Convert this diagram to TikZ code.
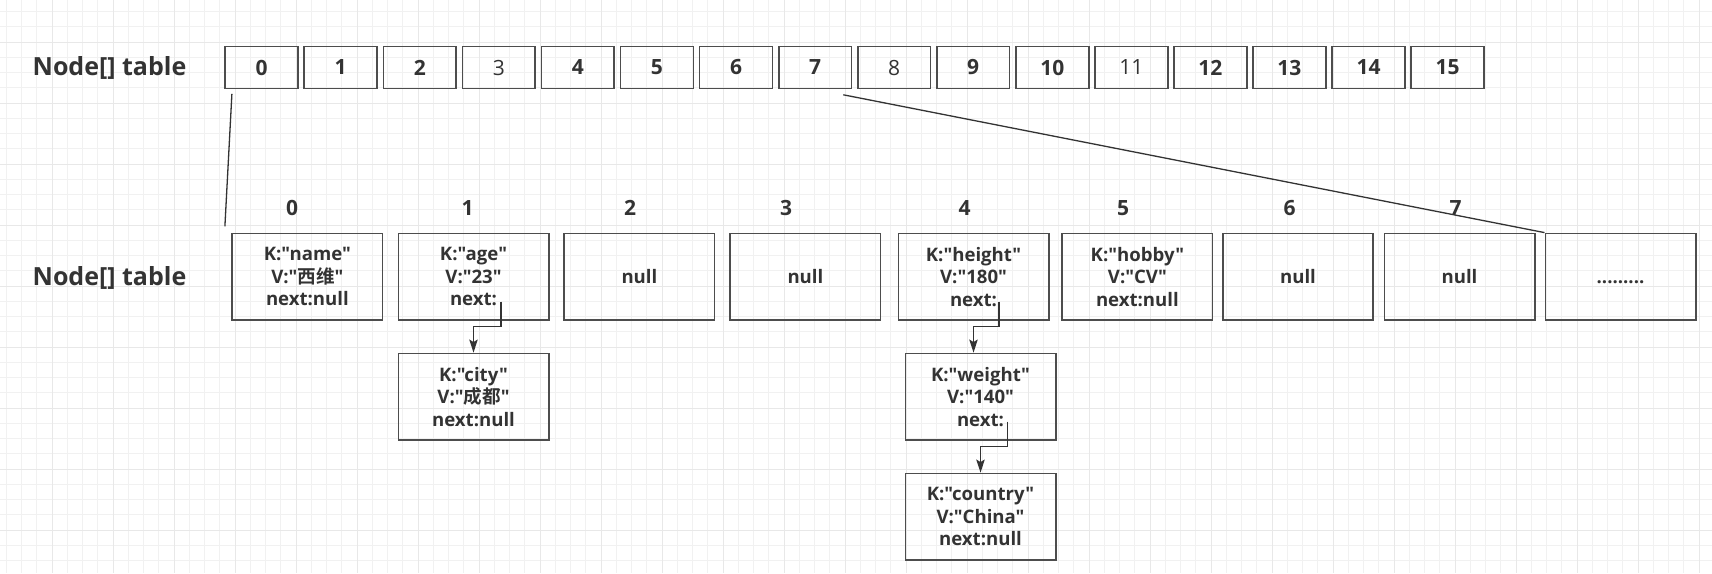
\documentclass[tikz,border=0pt]{standalone}
\usepackage{fontspec}
\setmainfont{Open Sans}[Ligatures=TeXOff]
\newfontfamily\cjk{Noto Sans CJK SC}[BoldFont={Noto Sans CJK SC Bold}]
\usetikzlibrary{arrows.meta,calc,matrix}
\definecolor{ink}{HTML}{333333}
\definecolor{edgegray}{HTML}{4D4D4D}
\definecolor{finegray}{HTML}{F1F1F1}
\definecolor{coarsegray}{HTML}{E8E8E8}

\begin{document}
\begin{tikzpicture}[x=0.5pt,y=-0.5pt,
  slot/.style={draw=edgegray,line width=0.85pt,minimum width=36.4pt,minimum height=20.95pt,inner sep=0pt,text=ink,font=\fontsize{10.5}{12}\selectfont\bfseries},
  light/.style={font=\fontsize{10.5}{12}\selectfont},
  bucket/.style={draw=edgegray,line width=0.85pt,minimum width=75.15pt,minimum height=43.15pt,inner sep=0pt,align=center,text=ink,font=\fontsize{9.3}{11.25}\selectfont\bfseries},
  idx/.style={text=ink,font=\fontsize{10.5}{12}\selectfont\bfseries},
  title/.style={text=ink,font=\fontsize{12.5}{15}\selectfont\bfseries},
  fine/.style={draw=finegray,line width=0.5pt},
  coarse/.style={draw=coarsegray,line width=0.5pt},
  edge/.style={draw=ink,line width=0.65pt},
  link/.style={draw=ink,line width=0.65pt,->,>={Stealth[length=6.5pt,width=4.2pt,inset=1.2pt]}}]
\useasboundingbox (0,0) rectangle (1712,573);
\fill[white] (0,0) rectangle (1712,573);

% background grid
\foreach \i in {0,...,111} \draw[fine] ({6.25+15.25*\i},0) -- ++(0,573);
\foreach \i in {0,...,36} \draw[fine] (0,{11.5+15.25*\i}) -- ++(1712,0);
\foreach \i in {0,...,27} \draw[coarse] ({52+61*\i},0) -- ++(0,573);
\foreach \i in {0,...,8} \draw[coarse] (0,{42+61*\i}) -- ++(1712,0);

\node(toptitle)[title] at (109.5,68) {Node[] table};
\node(lowtitle)[title] at (109.5,277.5) {Node[] table};

\matrix (tab) [column sep=2.28pt] at (854.6,67.5)
{
\node(c0)[slot]{0}; \pgfmatrixnextcell \node(c1)[slot]{1}; \pgfmatrixnextcell \node(c2)[slot]{2}; \pgfmatrixnextcell \node(c3)[slot,light]{3}; \pgfmatrixnextcell
\node(c4)[slot]{4}; \pgfmatrixnextcell \node(c5)[slot]{5}; \pgfmatrixnextcell \node(c6)[slot]{6}; \pgfmatrixnextcell \node(c7)[slot]{7}; \pgfmatrixnextcell
\node(c8)[slot,light]{8}; \pgfmatrixnextcell \node(c9)[slot]{9}; \pgfmatrixnextcell \node(c10)[slot]{10}; \pgfmatrixnextcell \node(c11)[slot,light]{11}; \pgfmatrixnextcell
\node(c12)[slot]{12}; \pgfmatrixnextcell \node(c13)[slot]{13}; \pgfmatrixnextcell \node(c14)[slot]{14}; \pgfmatrixnextcell \node(c15)[slot]{15};\\
};

\node(i0)[idx] at (292,207.8){0};
\node(i1)[idx] at (467.5,207.8){1};
\node(i2)[idx] at (630,207.8){2};
\node(i3)[idx] at (786,207.8){3};
\node(i4)[idx] at (964.5,207.8){4};
\node(i5)[idx] at (1123,207.8){5};
\node(i6)[idx] at (1289.5,207.8){6};
\node(i7)[idx] at (1455.5,207.8){7};

\node(b0)[bucket] at (307.4,276.6){K:"name"\\V:"{\cjk 西维}"\\next:null};
\node(b1)[bucket] at (473.5,276.6){K:"age"\\V:"23"\\next:};
\node(b2)[bucket] at (639.4,276.6){null};
\node(b3)[bucket] at (805.4,276.6){null};
\node(b4)[bucket] at (973.5,276.6){K:"height"\\V:"180"\\next:};
\node(b5)[bucket] at (1137.4,276.6){K:"hobby"\\V:"CV"\\next:null};
\node(b6)[bucket] at (1298,276.6){null};
\node(b7)[bucket] at (1459.5,276.6){null};
\node(b8)[bucket] at (1620.5,276.6){\vphantom{l}.........};
\node(city)[bucket] at (473.5,396.6){K:"city"\\V:"{\cjk 成都}"\\next:null};
\node(weight)[bucket] at (980.5,396.6){K:"weight"\\V:"140"\\next:};
\node(country)[bucket] at (980.5,516.6){K:"country"\\V:"China"\\next:null};

\coordinate (d0) at ($(c0.south west)+(7.5,4.5)$);
\coordinate (u0) at ($(b0.north west)+(-6.5,-6.3)$);
\coordinate (d7) at ($(c7.south east)+(-9,5.5)$);
\coordinate (n1) at ($(b1.center)+(27.5,25)$);
\coordinate (n4) at ($(b4.center)+(25.5,25)$);
\coordinate (nw) at ($(weight.center)+(26.8,25)$);

\draw [edge] (d0) -- (u0);
\draw [edge] (d7) -- (b8.north west);
\draw [link] (n1) -- ++(0,25) -| (city.north);
\draw [link] (n4) -- ++(0,25) -| (b4.center |- weight.north);
\draw [link] (nw) -- ++(0,25) -| (country.north);
\end{tikzpicture}
\end{document}
